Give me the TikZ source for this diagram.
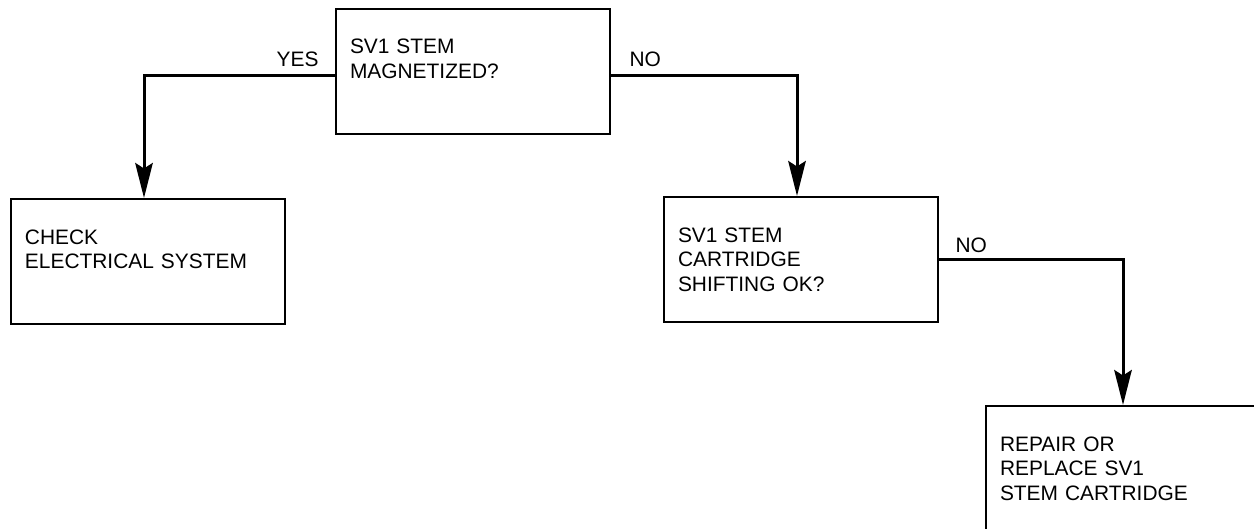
\documentclass[tikz,border=0pt]{standalone}
\usepackage{fontspec}
\setmainfont{Liberation Sans}
\usetikzlibrary{arrows.meta,positioning}

\begin{document}
\begin{tikzpicture}[x=0.2mm, y=-0.2mm,
  box/.style={draw, line width=0.4mm, anchor=north west, align=left, text width=49.2mm,
    inner xsep=2.8mm, inner ysep=0pt, text height=9mm, text depth=16mm,
    font=\fontsize{11.9}{14.2}\selectfont},
  lbl/.style={inner sep=0pt, font=\fontsize{11.9}{14.2}\selectfont},
  conn/.style={line width=0.6mm, -{Stealth[length=7mm, width=3.5mm, inset=1.1mm]}}]
\useasboundingbox (0,0) rectangle (1254,529);
\node[box] (q1) at (335,8) {SV1 STEM\\MAGNETIZED?};
\node[box] (a2) at (10,198) {CHECK\\ELECTRICAL SYSTEM};
\node[box] (q3) at (663,196) {SV1 STEM\\CARTRIDGE\\SHIFTING OK?};
\node[box] (a4) at (985,405) {REPAIR OR\\REPLACE SV1\\STEM CARTRIDGE};
\draw[conn] ([yshift=-0.8mm]q1.west) node[lbl, above left=1.4mm and 3mm] (yes) {YES} -| ([xshift=-0.8mm]a2.north);
\draw[conn] ([yshift=-0.8mm]q1.east) node[lbl, above right=1.4mm and 3.4mm] (no1) {NO} -| ([xshift=-0.8mm]q3.north);
\draw[conn] (q3.east) node[lbl, above right=1mm and 3mm] (no2) {NO} -| (a4.north);
\end{tikzpicture}
\end{document}
